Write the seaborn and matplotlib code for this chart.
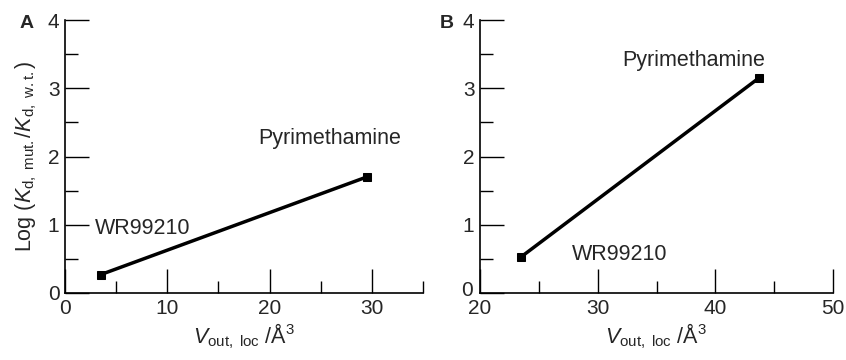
import matplotlib
matplotlib.use("Agg")
import matplotlib.pyplot as plt
import matplotlib.transforms as mtransforms
import seaborn as sns
import pandas as pd
from matplotlib.ticker import MultipleLocator

sns.set_style("ticks")
plt.rcParams['font.family'] = ['Liberation Sans', 'DejaVu Sans']
plt.rcParams['mathtext.fontset'] = 'custom'
plt.rcParams['mathtext.rm'] = 'Liberation Sans'
plt.rcParams['mathtext.it'] = 'Liberation Sans:italic'
plt.rcParams['mathtext.bf'] = 'Liberation Sans:bold'

# Data
compounds = ["WR99210", "Pyrimethamine"]
vol_a = [3.5, 29.5]
logk_a = [0.27, 1.70]
vol_b = [23.5, 43.7]
logk_b = [0.53, 3.15]

fig = plt.figure(figsize=(8.46, 3.6), dpi=100)
axA = fig.add_axes([65/846, 1-293/360, (423-65)/846, (293-20)/360])
axB = fig.add_axes([480/846, 1-293/360, (833-480)/846, (293-20)/360])

dfA = pd.DataFrame({"x": vol_a, "y": logk_a, "c": compounds})
dfB = pd.DataFrame({"x": vol_b, "y": logk_b, "c": compounds})

for ax, df, xlim in [(axA, dfA, (0, 35)), (axB, dfB, (20, 50))]:
    sns.lineplot(data=df, x="x", y="y", ax=ax, color="black", linewidth=2.5,
                 marker="s", markersize=6, markeredgecolor="black", sort=False)
    ax.set_xlim(*xlim)
    ax.set_ylim(0, 4)
    ax.xaxis.set_major_locator(MultipleLocator(10))
    ax.xaxis.set_minor_locator(MultipleLocator(5))
    ax.yaxis.set_major_locator(MultipleLocator(1))
    ax.yaxis.set_minor_locator(MultipleLocator(0.5))
    ax.tick_params(which="major", direction="in", length=17, width=1.0,
                   labelsize=15, color="black", pad=4)
    ax.tick_params(which="minor", direction="in", length=9, width=1.0, color="black")
    for s in ["top", "right"]:
        ax.spines[s].set_visible(False)
    for s in ["left", "bottom"]:
        ax.spines[s].set_linewidth(1.2)
        ax.spines[s].set_color("black")
    ax.set_xlabel(r"$V_{\mathrm{out,\ loc}}$ /Å$^{3}$", fontsize=15.5, labelpad=3)
    ax.set_ylabel("")

axA.set_ylabel(r"Log ($K_{\mathrm{d,\ mut.}}$/$K_{\mathrm{d,\ w.t.}}$)", fontsize=15.5, labelpad=6)

# nudge B's y "0" label slightly up-left so it sits above the x "20" label
fig.canvas.draw()
for lab in axB.get_yticklabels():
    if lab.get_text() in ("0",):
        lab.set_transform(lab.get_transform() + mtransforms.ScaledTranslation(-2/100, 4/100, fig.dpi_scale_trans))

axA.text(18.9, 2.27, compounds[1], fontsize=15.5, va="center", ha="left")
axA.text(2.9, 0.95, compounds[0], fontsize=15.5, va="center", ha="left")
axB.text(32.1, 3.41, compounds[1], fontsize=15.5, va="center", ha="left")
axB.text(27.8, 0.56, compounds[0], fontsize=15.5, va="center", ha="left")

fig.text(20/846, 1-23/360, "A", fontsize=14, fontweight="bold", va="center", ha="left")
fig.text(440/846, 1-23/360, "B", fontsize=14, fontweight="bold", va="center", ha="left")

fig.savefig("out.png", dpi=100)
